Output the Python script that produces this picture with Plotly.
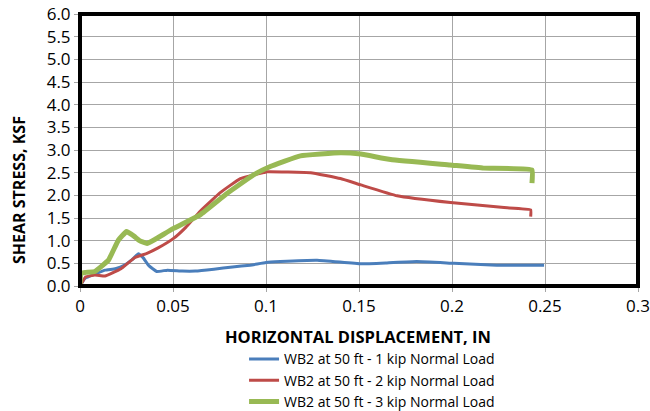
import plotly.graph_objects as go

x_1kip = [0.0, 0.0027, 0.008, 0.0135, 0.019, 0.024, 0.028, 0.0314, 0.034, 0.037, 0.0413, 0.047, 0.055, 0.062, 0.072, 0.082, 0.0915, 0.1, 0.1077, 0.1275, 0.151, 0.165, 0.181, 0.201, 0.224, 0.2495]
y_1kip = [0.0, 0.17, 0.26, 0.35, 0.38, 0.46, 0.58, 0.71, 0.62, 0.45, 0.32, 0.35, 0.33, 0.33, 0.37, 0.42, 0.46, 0.52, 0.54, 0.57, 0.49, 0.51, 0.54, 0.50, 0.46, 0.46]

x_2kip = [0.0, 0.003, 0.008, 0.0135, 0.018, 0.022, 0.0296, 0.036, 0.042, 0.0503, 0.057, 0.0646, 0.0754, 0.0862, 0.0987, 0.1005, 0.124, 0.140, 0.151, 0.1705, 0.1992, 0.228, 0.2423, 0.2423]
y_2kip = [0.0, 0.2, 0.24, 0.22, 0.30, 0.38, 0.63, 0.72, 0.84, 1.05, 1.30, 1.65, 2.06, 2.37, 2.50, 2.52, 2.50, 2.37, 2.23, 1.99, 1.84, 1.73, 1.68, 1.53]

x_3kip = [0.0, 0.0005, 0.003, 0.008, 0.0153, 0.0206, 0.025, 0.029, 0.032, 0.036, 0.040, 0.0503, 0.0646, 0.079, 0.0933, 0.102, 0.1185, 0.140, 0.151, 0.167, 0.199, 0.217, 0.243, 0.243]
y_3kip = [0.0, 0.28, 0.30, 0.32, 0.57, 1.01, 1.20, 1.10, 1.00, 0.94, 1.02, 1.27, 1.57, 2.04, 2.45, 2.63, 2.87, 2.94, 2.91, 2.79, 2.67, 2.60, 2.56, 2.27]

names = ["WB2 at 50 ft - 1 kip Normal Load", "WB2 at 50 ft - 2 kip Normal Load", "WB2 at 50 ft - 3 kip Normal Load"]
colors = ["#4a7ebb", "#be4b48", "#98b954"]
widths = [3, 3, 5]

x_ticks = [0, 0.05, 0.1, 0.15, 0.2, 0.25, 0.3]
x_tick_text = ["0", "0.05", "0.1", "0.15", "0.2", "0.25", "0.3"]
y_ticks = [0.0, 0.5, 1.0, 1.5, 2.0, 2.5, 3.0, 3.5, 4.0, 4.5, 5.0, 5.5, 6.0]

fig = go.Figure()
for xs, ys, n, c, w in zip([x_1kip, x_2kip, x_3kip], [y_1kip, y_2kip, y_3kip], names, colors, widths):
    fig.add_trace(go.Scatter(x=xs, y=ys, mode="lines", name=n,
                             line=dict(color=c, width=w, shape="spline", smoothing=0.3)))

font = "Open Sans, Liberation Sans, sans-serif"
fig.update_layout(
    width=650, height=411,
    margin=dict(l=80, r=12, t=14, b=125, autoexpand=False),
    paper_bgcolor="white", plot_bgcolor="white",
    font=dict(family=font, color="black", size=15),
    showlegend=True,
    legend=dict(x=0.294, y=-0.211, xanchor="left", yanchor="top",
                font=dict(size=14), tracegroupgap=0,
                bgcolor="rgba(0,0,0,0)"),
    xaxis=dict(range=[0, 0.3], tickvals=x_ticks, ticktext=x_tick_text,
               showgrid=True, gridcolor="#a6a6a6", gridwidth=1,
               ticks="outside", ticklen=5, tickcolor="#a6a6a6",
               zeroline=False, showline=False, automargin=False,
               tickfont=dict(size=17)),
    yaxis=dict(range=[0, 6], tickvals=y_ticks, tickformat=".1f",
               ticksuffix="\u00a0\u00a0",
               showgrid=True, gridcolor="#a6a6a6", gridwidth=1,
               ticks="outside", ticklen=5, tickcolor="#a6a6a6",
               zeroline=False, showline=False, automargin=False,
               tickfont=dict(size=17)),
)
fig.add_annotation(text="<b>HORIZONTAL DISPLACEMENT, IN</b>", xref="paper", yref="paper",
                   x=0.499, y=(286 - 336) / 272, xanchor="center", yanchor="middle",
                   showarrow=False, font=dict(size=16.5))
fig.add_annotation(text="<b>SHEAR STRESS, KSF</b>", xref="paper", yref="paper",
                   x=(19 - 80) / 558, y=(286 - 190) / 272, xanchor="center", yanchor="middle",
                   textangle=-90, showarrow=False, font=dict(size=16))
fig.add_shape(type="rect", xref="paper", yref="paper", x0=0, y0=0, x1=1, y1=1,
              line=dict(color="black", width=4), layer="above")

fig.write_html("out.html", config={"displayModeBar": False},
               post_script="document.body.style.margin='0';")
